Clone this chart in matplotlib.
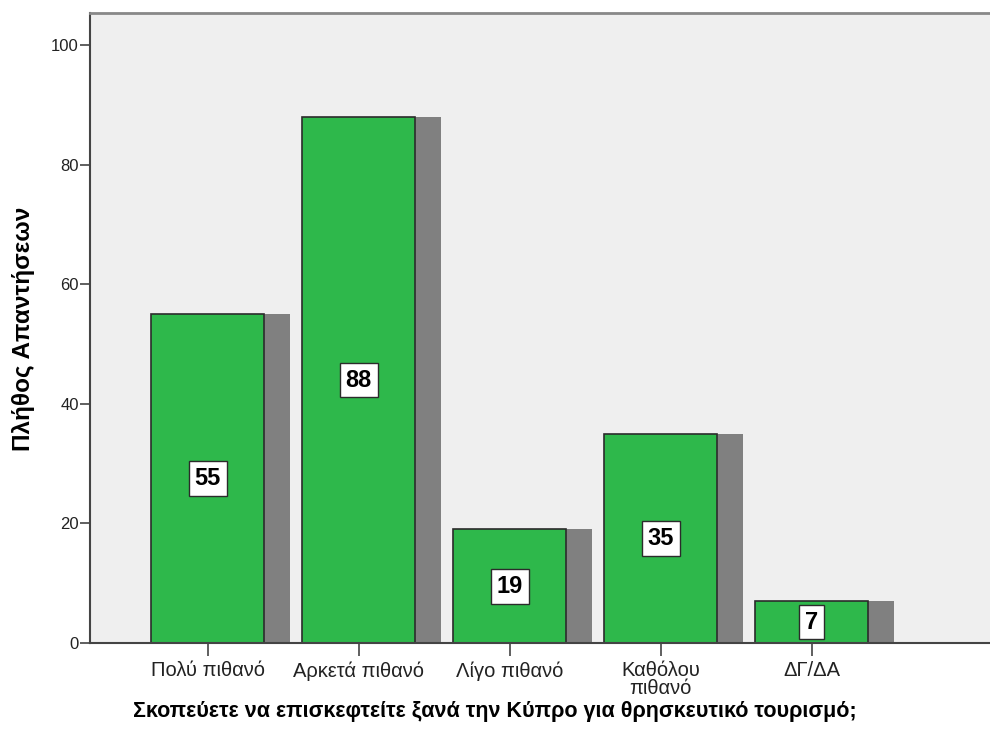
import matplotlib.pyplot as plt
import numpy as np

plt.rcParams['font.family'] = ['Liberation Sans', 'DejaVu Sans']

categories = ["Πολύ πιθανό", "Αρκετά πιθανό", "Λίγο πιθανό", "Καθόλου\nπιθανό", "ΔΓ/ΔΑ"]
counts = [55, 88, 19, 35, 7]
y_ticks = [0, 20, 40, 60, 80, 100]

fig = plt.figure(figsize=(9.9, 7.49), dpi=100)
ax = fig.add_axes([90 / 990, 1 - 643 / 749, 900 / 990, (643 - 13) / 749])
ax.set_facecolor("#efefef")

x = np.arange(len(categories))
width = 0.75
shadow_dx = 0.17

# shadows first, then green bars on top
ax.bar(x + shadow_dx, counts, width=width, color="#808080", linewidth=0, zorder=1)
ax.bar(x, counts, width=width, color="#2eb84b", edgecolor="#2b2b2b", linewidth=1.2, zorder=2)

for xi, v in zip(x, counts):
    ax.text(xi, v / 2, str(v), ha="center", va="center", fontsize=17, fontweight="bold",
            zorder=3,
            bbox=dict(boxstyle="square,pad=0.25", facecolor="white", edgecolor="#2b2b2b", linewidth=1))

ax.set_xlim(-0.78, 5.18)
ax.set_ylim(0, 105.4)
ax.set_yticks(y_ticks)
ax.set_xticks(x)
ax.set_xticklabels(categories, fontsize=14.5, color="#222222", linespacing=0.9)
ax.tick_params(axis="y", length=7, width=1.2, color="#444444", labelsize=12, labelcolor="#222222", pad=1)
ax.tick_params(axis="x", length=9, width=1.2, color="#444444", pad=4)

for side in ["left", "bottom"]:
    ax.spines[side].set_color("#444444")
    ax.spines[side].set_linewidth(1.5)
ax.spines["top"].set_color("#888888")
ax.spines["top"].set_linewidth(2)
ax.spines["right"].set_visible(False)

ax.set_ylabel("Πλήθος Απαντήσεων", fontsize=17.5, fontweight="bold")
ax.yaxis.set_label_coords(-(90 - 24) / 900, (643 - 329) / 630)
ax.set_xlabel("Σκοπεύετε να επισκεφτείτε ξανά την Κύπρο για θρησκευτικό τουρισμό;",
              fontsize=15.5, fontweight="bold")
ax.xaxis.set_label_coords((495 - 90) / 900, -(711 - 643) / 630)
ax.xaxis.label.set_va("center")
ax.yaxis.label.set_va("center")

fig.savefig("out.png", dpi=100)
